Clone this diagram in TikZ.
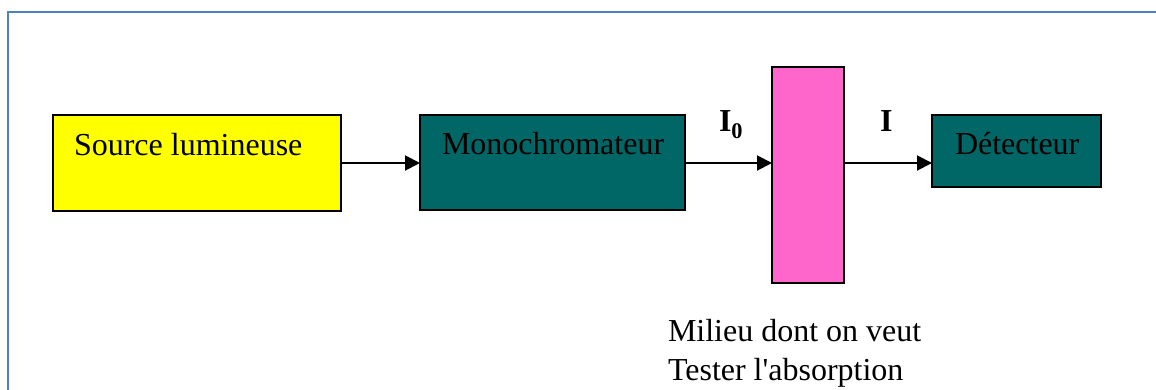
\documentclass[tikz,border=0pt]{standalone}
\usepackage{fontspec}
\setmainfont{Liberation Serif}
\usetikzlibrary{arrows.meta}
\definecolor{frameblue}{RGB}{79,129,189}
\definecolor{srcyellow}{RGB}{255,255,0}
\definecolor{teal6}{RGB}{0,102,102}
\definecolor{pinkbox}{RGB}{255,102,204}
\tikzset{
  box/.style={draw=black, line width=2.2pt, inner sep=0pt, outer sep=0pt},
  lbl/.style={inner sep=0pt, outer sep=0pt, font=\fontsize{32}{38}\selectfont, anchor=base west},
  conn/.style={line width=2pt, -{Triangle[length=15pt,width=15pt]}}
}
\begin{document}
\begin{tikzpicture}[x=1pt,y=-1pt]
\useasboundingbox (0,0) rectangle (1156,390);
\draw[frameblue, line width=2.2pt] (8,12) rectangle (1180,410);
% boxes
\node[box, fill=srcyellow, minimum width=288pt, minimum height=96pt, anchor=north west] (src) at (53,115) {};
\node[box, fill=teal6, minimum width=265pt, minimum height=95pt, anchor=north west] (mono) at (420,115) {};
\node[box, fill=pinkbox, minimum width=72pt, minimum height=216pt, anchor=north west] (cell) at (772,67) {};
\node[box, fill=teal6, minimum width=169pt, minimum height=72pt, anchor=north west] (det) at (932,115) {};
% texts
\node[lbl] (srct) at (74,156) {Source lumineuse};
\node[lbl] (monot) at (442,155) {Monochromateur};
\node[lbl] (dett) at (955,155) {Détecteur};
\node[lbl] (izero) at (719,132) {\textbf{I\textsubscript{0}}};
\node[lbl] (ione) at (880,132) {\textbf{I}};
\node[lbl] (mil1) at (668,341) {Milieu dont on veut};
\node[lbl] (mil2) at (668,380) {Tester l\textquotesingle absorption};
% connectors
\coordinate (a1) at (src.east |- 0,163);
\coordinate (a2) at (mono.west |- 0,163);
\coordinate (b1) at (mono.east |- 0,163);
\coordinate (b2) at (cell.west |- 0,163);
\coordinate (c1) at (cell.east |- 0,163);
\coordinate (c2) at (det.west |- 0,163);
\draw[conn] (a1) -- (a2);
\draw[conn] (b1) -- (b2);
\draw[conn] (c1) -- (c2);
\end{tikzpicture}
\end{document}
